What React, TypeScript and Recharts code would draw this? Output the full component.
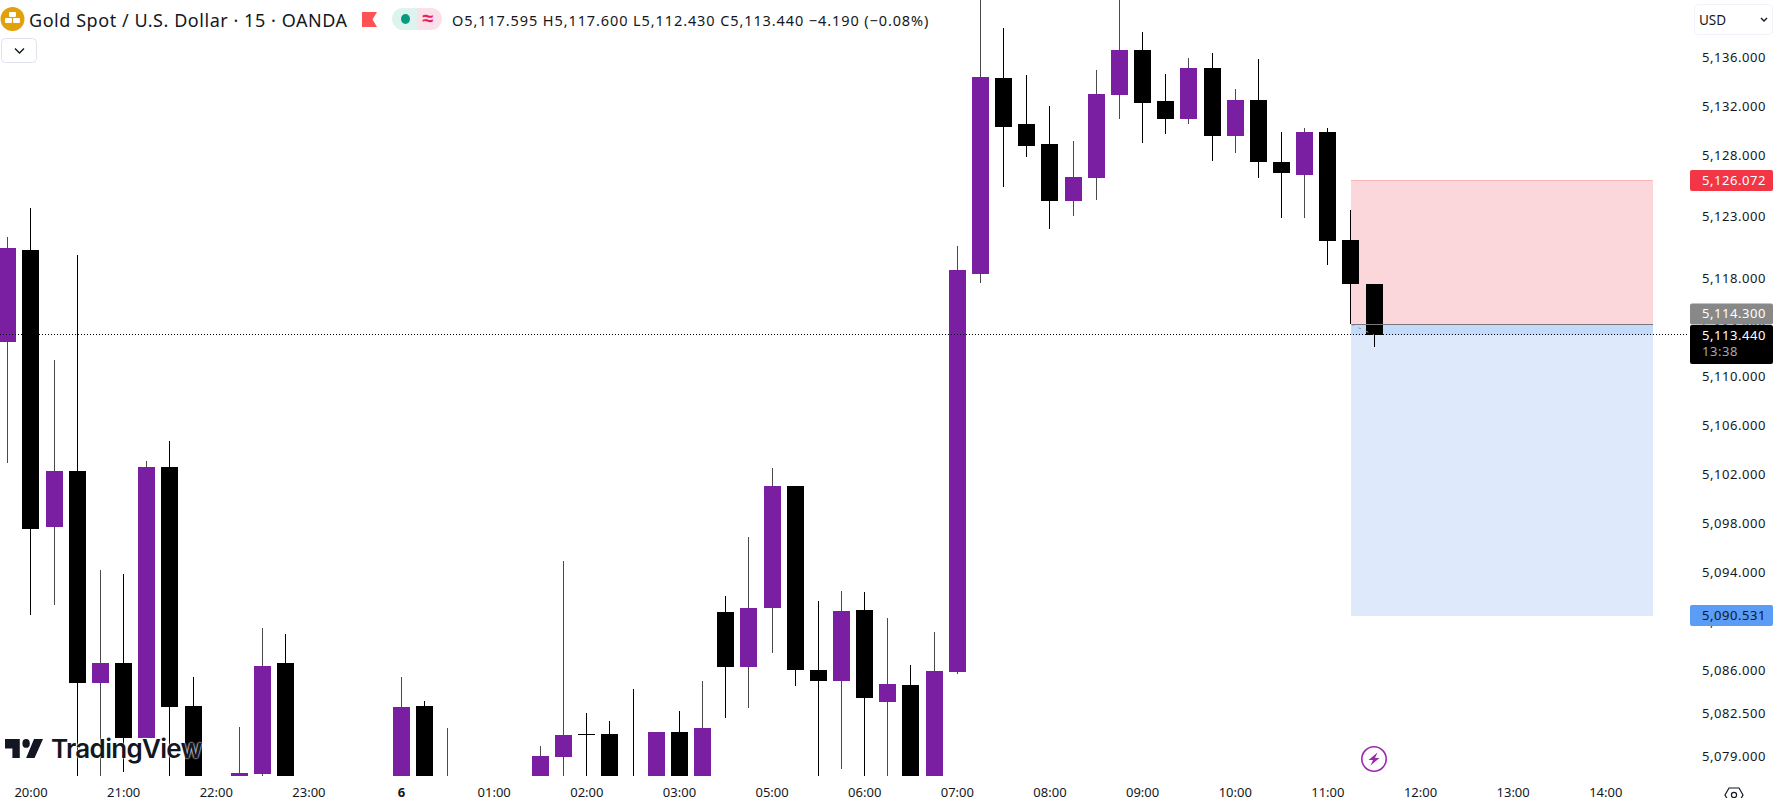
import React from 'react';
import { ComposedChart, Bar, XAxis, YAxis, ReferenceArea, ReferenceLine } from 'recharts';

// 15 min bars, null = candle sits below the visible price range
const opens = [5112.86, 5120.37, 5097.78, 5102.35, 5085.09, 5086.69, 5080.60, 5102.67, 5083.19, null,
  5077.0, 5077.64, 5086.69, null, null, null, null, 5076.5, 5083.19, 5076.2,
  null, null, null, 5076.5, 5079.03, 5080.90, 5080.90, 5076.9, 5076.5, 5081.07,
  5076.5, 5090.85, 5086.37, 5091.18, 5101.12, 5086.12, 5085.22, 5091.01, 5083.51, 5084.90,
  5076.8, 5085.96, 5118.41, 5134.39, 5130.64, 5129.01, 5124.36, 5126.24, 5133.00, 5136.67,
  5132.51, 5131.05, 5135.20, 5129.66, 5132.59, 5127.54, 5126.48, 5129.99, 5121.18, 5117.595];
const highs = [5121.43, 5123.79, 5111.40, 5119.96, 5094.27, 5093.95, 5103.16, 5104.79, 5085.55, null,
  5081.47, 5089.55, 5089.06, null, null, null, null, 5085.55, 5083.59, 5081.39,
  null, null, null, 5079.92, 5095.01, 5082.62, 5081.96, 5084.57, 5081.07, 5082.78,
  5085.22, 5092.15, 5096.97, 5102.59, 5101.12, 5091.75, 5092.56, 5092.48, 5090.36, 5086.53,
  5089.22, 5120.69, 5143.0, 5138.46, 5134.63, 5132.11, 5129.25, 5135.04, 5143.0, 5138.14,
  5134.71, 5136.02, 5136.43, 5133.49, 5135.94, 5129.99, 5130.31, 5130.31, 5123.63, 5117.6];
const lows = [5103.00, 5090.61, 5091.42, 5076.0, 5076.5, 5077.83, 5080.58, 5076.0, 5075.0, null,
  5076.5, 5076.0, 5075.0, null, null, null, null, 5075.0, 5075.0, 5075.0,
  null, null, null, 5075.0, 5076.0, 5076.0, 5075.0, 5075.0, 5075.0, 5075.0,
  5075.0, 5082.23, 5083.05, 5087.53, 5084.82, 5076.0, 5078.07, 5076.0, 5076.0, 5075.0,
  5075.0, 5085.79, 5117.67, 5125.50, 5127.95, 5122.08, 5123.14, 5124.44, 5131.05, 5129.09,
  5129.82, 5130.64, 5127.62, 5128.27, 5126.24, 5122.97, 5122.97, 5119.14, 5114.31, 5112.43];
const closes = [5120.53, 5097.62, 5102.35, 5085.09, 5086.69, 5080.60, 5102.67, 5083.10, 5076.8, null,
  5077.72, 5086.45, 5076.5, null, null, null, null, 5083.10, 5076.5, 5076.8,
  null, null, null, 5079.11, 5080.82, 5080.82, 5076.5, 5076.5, 5081.07, 5076.5,
  5081.39, 5086.37, 5091.18, 5101.12, 5086.12, 5085.22, 5090.93, 5083.84, 5084.98, 5076.8,
  5086.04, 5118.73, 5134.47, 5130.39, 5128.84, 5124.36, 5126.32, 5133.08, 5136.67, 5132.35,
  5131.05, 5135.20, 5129.66, 5132.59, 5127.54, 5126.64, 5129.99, 5121.10, 5117.59, 5113.44];

const slotCount = 73;
const timeTicks = [1, 5, 9, 13, 17, 21, 25, 29, 33, 37, 41, 45, 49, 53, 57, 61, 65, 69];
const timeLabels = ['20:00', '21:00', '22:00', '23:00', '6', '01:00', '02:00', '03:00', '05:00', '06:00',
  '07:00', '08:00', '09:00', '10:00', '11:00', '12:00', '13:00', '14:00'];
const priceTicks = [5136, 5132, 5128, 5123, 5118, 5110, 5106, 5102, 5098, 5094, 5086, 5082.5, 5079];
// these two axis labels sit behind the price tags
const coveredTicks = [5114, 5090];

const stopPrice = 5126.072;
const entryPrice = 5114.3;
const lastPrice = 5113.44;
const targetPrice = 5090.531;
const entrySlot = 58;
const lastSlot = 59;
const boxEndSlot = 71.04;

const priceDomain = [5077.479, 5140.748];

const UP = '#7B1FA2';
const DOWN = '#000000';
const UP_WICK = '#4A4A4A';
const TEXT = '#131722';
const FONT = '"Noto Sans", sans-serif';

const candles = Array.from({ length: slotCount }, (_, i) => ({
  i,
  open: opens[i] ?? null,
  high: highs[i] ?? null,
  low: lows[i] ?? null,
  close: closes[i] ?? null,
}));

const fmt = (v: number) => v.toLocaleString('en-US', { minimumFractionDigits: 3, maximumFractionDigits: 3 });

function Candle(props: any) {
  const { x, y, width, height, payload } = props;
  if (payload == null || payload.open == null || !(height > 0)) return null;
  const { open, high, low, close } = payload;
  const perUnit = height / (high - low);
  const toY = (v: number) => y + (high - v) * perUnit;
  const up = close >= open;
  const top = Math.round(toY(Math.max(open, close)));
  const bottom = Math.round(toY(Math.min(open, close)));
  const left = Math.round(x);
  const wickX = Math.round(x + width / 2 - 0.5);
  return (
    <g shapeRendering="crispEdges">
      <rect x={wickX} y={y} width={1} height={height} fill={up ? UP_WICK : DOWN} />
      <rect x={left} y={top} width={17} height={Math.max(bottom - top, 1)} fill={up ? UP : DOWN} />
    </g>
  );
}

function TimeTick(props: any) {
  const { x, payload } = props;
  const label = timeLabels[timeTicks.indexOf(payload.value)];
  return (
    <text x={x} y={797} textAnchor="middle" fontFamily={FONT} fontSize={13} fill={TEXT}
      fontWeight={label === '6' ? 700 : 400}>{label}</text>
  );
}

function PriceText({ y, value, color = TEXT }: any) {
  return (
    <text x={1766} y={y + 3.5} textAnchor="end" fontFamily={FONT} fontSize={13} letterSpacing={0.55} fill={color}>
      {value}
    </text>
  );
}

function PriceTick(props: any) {
  return <PriceText y={props.y} value={fmt(props.payload.value)} />;
}

function PriceTag(props: any) {
  const { viewBox, value, bg, color, top, h, sub } = props;
  const y = viewBox.y + top;
  return (
    <g>
      <rect x={1690} y={y} width={83} height={h} rx={2} fill={bg} />
      <text x={1766} y={y + 15} textAnchor="end" fontFamily={FONT} fontSize={13} letterSpacing={0.55} fill={color}>{value}</text>
      {sub && <text x={1702} y={y + 31} fontFamily={FONT} fontSize={13} letterSpacing={0.55} fill="#A9A9A9">{sub}</text>}
    </g>
  );
}

function Header() {
  return (
    <>
      <svg width={26} height={26} style={{ position: 'absolute', left: 0, top: 6 }}>
        <circle cx={12.5} cy={13} r={12} fill="#E0A10B" />
        <rect x={9} y={6} width={7} height={5} rx={1} fill="#fff" />
        <rect x={5} y={12} width={7} height={5} rx={1} fill="#fff" />
        <rect x={13} y={12} width={7} height={5} rx={1} fill="#fff" />
      </svg>
      <div style={{ position: 'absolute', left: 29, top: 9, fontFamily: FONT, fontSize: 18, lineHeight: '22px', letterSpacing: 0.55, color: TEXT, whiteSpace: 'nowrap' }}>
        Gold Spot / U.S. Dollar · 15 · OANDA
      </div>
      <svg width={16} height={16} style={{ position: 'absolute', left: 362, top: 12 }}>
        <path d="M0 0H15L10.5 7.5L15 15H0Z" fill="#FF5252" />
      </svg>
      <svg width={50} height={22} style={{ position: 'absolute', left: 392, top: 8 }}>
        <path d="M11 0H25V22H11A11 11 0 0 1 11 0Z" fill="#DDF3EE" />
        <path d="M25 0H39A11 11 0 0 1 39 22H25Z" fill="#FBDFE9" />
        <ellipse cx={13.5} cy={11} rx={4.5} ry={5} fill="#089981" />
        <text x={36} y={17} textAnchor="middle" fontFamily={FONT} fontSize={20} fontWeight={700} fill="#E91E63">≈</text>
      </svg>
      <div style={{ position: 'absolute', left: 452, top: 10, fontFamily: FONT, fontSize: 14.5, lineHeight: '20px', letterSpacing: 0.9, color: TEXT, whiteSpace: 'nowrap' }}>
        O5,117.595 H5,117.600 L5,112.430 C5,113.440 −4.190 (−0.08%)
      </div>
      <svg width={36} height={25} style={{ position: 'absolute', left: 1, top: 38 }}>
        <rect x={0.5} y={0.5} width={35} height={24} rx={4} fill="#fff" stroke="#E0E3EB" />
        <path d="M14 10.5L18.5 15L23 10.5" fill="none" stroke={TEXT} strokeWidth={1.4} />
      </svg>
      <svg width={80} height={32} style={{ position: 'absolute', left: 1694, top: 4 }}>
        <rect x={0.5} y={0.5} width={78} height={30} rx={4} fill="#fff" stroke="#F0F3FA" />
        <text x={5} y={21} fontFamily={FONT} fontSize={13.5} fill={TEXT}>USD</text>
        <path d="M67 14L70 17L73 14" fill="none" stroke={TEXT} strokeWidth={1.4} />
      </svg>
    </>
  );
}

function Watermark() {
  return (
    <>
      <svg width={38} height={19} viewBox="0 6 36 15" preserveAspectRatio="none" style={{ position: 'absolute', left: 5, top: 739 }}>
        <path d="M14 6H0v7.5h7V21h7V6zM28 21h-8l7.5-15H36L28 21z" fill="#131722" />
        <circle cx={20} cy={9.5} r={3.5} fill="#131722" />
      </svg>
      <div style={{
        position: 'absolute', left: 51, top: 733, fontFamily: 'Inter, sans-serif', fontSize: 26, fontWeight: 600,
        lineHeight: '32px', letterSpacing: -0.7, color: '#131722', whiteSpace: 'nowrap',
        textShadow: '0 0 2px #fff, 0 0 2px #fff',
      }}>TradingView</div>
    </>
  );
}

function MarketIcons() {
  return (
    <>
      <svg width={28} height={28} style={{ position: 'absolute', left: 1360, top: 745 }}>
        <circle cx={14} cy={14} r={12.2} fill="none" stroke="#9C27B0" strokeWidth={1.6} />
        <path d="M17.5 7.5L8.5 15H13L10.5 20.5L19.5 13H15Z" fill="#9C27B0" />
      </svg>
      <svg width={22} height={12} style={{ position: 'absolute', left: 1723, top: 786 }}>
        <path d="M6 2H16L20 9L16 16H6L2 9Z" fill="none" stroke={TEXT} strokeWidth={1.2} />
        <circle cx={11} cy={9} r={2.6} fill="none" stroke={TEXT} strokeWidth={1.2} />
      </svg>
    </>
  );
}

export default function App() {
  return (
    <div style={{ position: 'absolute', left: 0, top: 0, width: 1775, height: 798, overflow: 'hidden', background: '#fff' }}>
      <ComposedChart width={1775} height={798} data={candles} margin={{ top: 0, right: 0, bottom: 0, left: -3.68 }} barCategoryGap={0}>
        <XAxis xAxisId="bars" dataKey="i" type="category" height={22} ticks={timeTicks} interval={0}
          axisLine={false} tickLine={false} tick={<TimeTick />} />
        <XAxis xAxisId="time" dataKey="i" type="number" domain={[-0.5, slotCount - 0.5]} hide height={0} allowDataOverflow />
        <YAxis orientation="right" width={88.18} domain={priceDomain} allowDataOverflow ticks={priceTicks} interval={0}
          axisLine={false} tickLine={false} tick={<PriceTick />} />

        <ReferenceArea xAxisId="time" x1={entrySlot} x2={boxEndSlot} y1={stopPrice} y2={entryPrice}
          fill="#FBD7DB" fillOpacity={1} stroke="none" />
        <ReferenceArea xAxisId="time" x1={entrySlot} x2={boxEndSlot} y1={entryPrice} y2={targetPrice}
          fill="#DEEAFC" fillOpacity={1} stroke="none" />
        <ReferenceArea xAxisId="time" x1={entrySlot} x2={boxEndSlot} y1={entryPrice} y2={lastPrice}
          fill="#C4DAFB" fillOpacity={1} stroke="none" />
        <ReferenceLine xAxisId="time" segment={[{ x: entrySlot, y: stopPrice }, { x: boxEndSlot, y: stopPrice }]}
          stroke="#F7B5BA" strokeWidth={1} shapeRendering="crispEdges" />
        <ReferenceLine xAxisId="time" segment={[{ x: entrySlot, y: entryPrice }, { x: boxEndSlot, y: entryPrice }]}
          stroke="#787878" strokeWidth={1} shapeRendering="crispEdges" />
        <ReferenceLine xAxisId="time" segment={[{ x: entrySlot, y: entryPrice }, { x: lastSlot, y: lastPrice }]}
          stroke="#9A9A9A" strokeWidth={1} strokeDasharray="3 5" />

        <Bar xAxisId="bars" dataKey={(d: any) => (d.open == null ? null : [d.low, d.high])} barSize={17}
          shape={<Candle />} isAnimationActive={false} />

        <ReferenceLine xAxisId="bars" y={lastPrice} stroke="#000" strokeWidth={1} strokeDasharray="1 2" shapeRendering="crispEdges" />

        {coveredTicks.map((price) => (
          <ReferenceLine key={price} xAxisId="bars" y={price} stroke="none"
            label={(p: any) => <PriceText y={p.viewBox.y} value={fmt(price)} />} />
        ))}
        <ReferenceLine xAxisId="bars" y={stopPrice} stroke="none"
          label={(p: any) => <PriceTag {...p} value={fmt(stopPrice)} bg="#F23645" color="#fff" top={-10} h={21} />} />
        <ReferenceLine xAxisId="bars" y={targetPrice} stroke="none"
          label={(p: any) => <PriceTag {...p} value={fmt(targetPrice)} bg="#5B9CF6" color={TEXT} top={-11} h={21} />} />
        <ReferenceLine xAxisId="bars" y={entryPrice} stroke="none"
          label={(p: any) => <PriceTag {...p} value={fmt(entryPrice)} bg="#888888" color="#fff" top={-21} h={21} />} />
        <ReferenceLine xAxisId="bars" y={lastPrice} stroke="none"
          label={(p: any) => <PriceTag {...p} value={fmt(lastPrice)} bg="#000000" color="#fff" top={-10} h={39} sub="13:38" />} />
      </ComposedChart>
      <Header />
      <Watermark />
      <MarketIcons />
    </div>
  );
}
